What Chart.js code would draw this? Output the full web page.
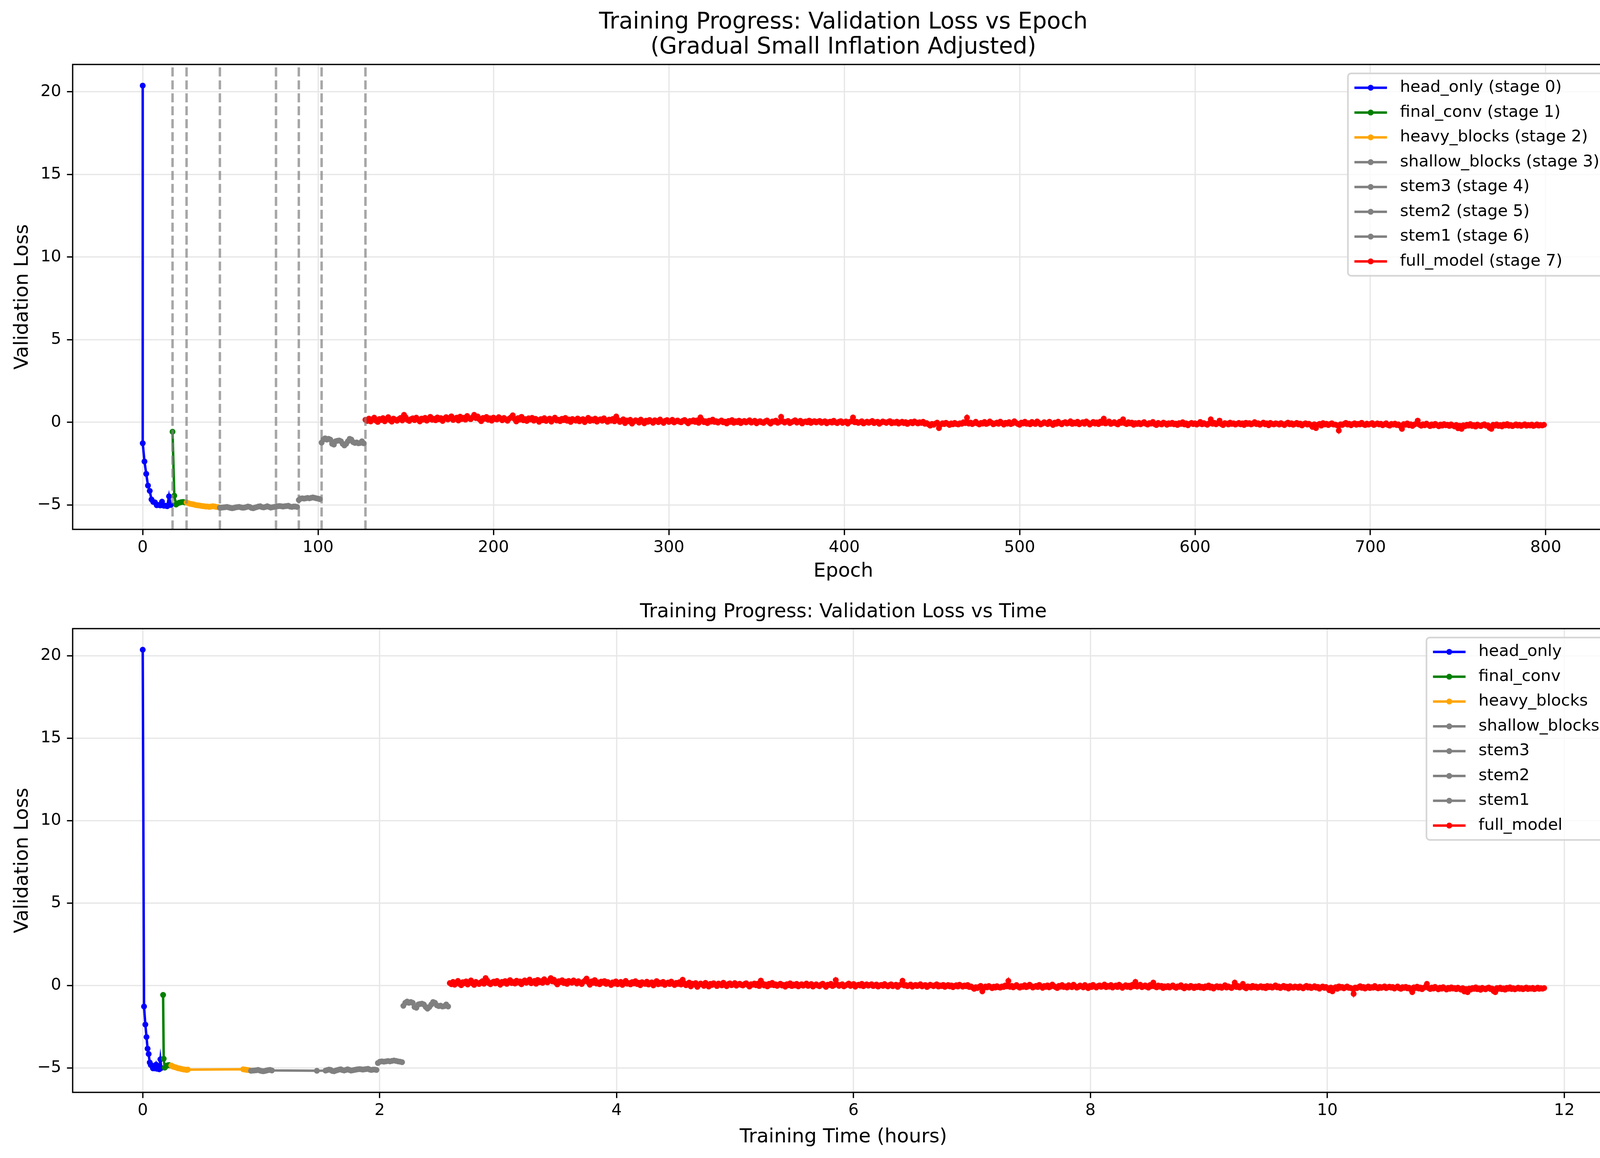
<!DOCTYPE html>
<html><head><meta charset="utf-8">
<script src="https://cdn.jsdelivr.net/npm/chart.js@4.4.1/dist/chart.umd.min.js"></script>
<style>
html,body{margin:0;padding:0;background:#fff;width:4164px;height:2964px;overflow:hidden}
canvas{position:absolute;left:0}
</style></head>
<body>
<canvas id="epochChart" width="4164" height="1500" style="top:0px;width:4164px;height:1500px"></canvas>
<canvas id="timeChart" width="4164" height="1464" style="top:1500px;width:4164px;height:1464px"></canvas>
<script>
// ---------------- data ----------------
const stageNames = ['head_only','final_conv','heavy_blocks','shallow_blocks','stem3','stem2','stem1','full_model'];
const stageColors = ['#0000ff','#008000','#ffa500','#808080','#808080','#808080','#808080','#ff0000'];
const stageStartEpochs = [0,17,25,44,76,89,102,127];

const headOnlyEpochs = [0,0,1,2,3,4,5,6,7,8,9,10,11,12,13,14,15,16];
const headOnlyLoss = [20.37,-1.27,-2.37,-3.12,-3.83,-4.15,-4.67,-4.82,-4.85,-5.02,-5.00,-5.03,-4.80,-5.05,-5.05,-5.08,-4.48,-5.00];
const headOnlyHours = [0.000,0.011,0.022,0.032,0.041,0.050,0.059,0.068,0.077,0.086,0.095,0.104,0.113,0.122,0.131,0.140,0.149,0.157];

const finalConvLoss = [-0.57,-4.44,-4.98,-4.90,-4.86,-4.83,-4.82,-4.85];
const finalConvHours = [0.172,0.177,0.186,0.195,0.204,0.213,0.222,0.231];

const heavyBlocksLoss = [-4.85,-4.90,-4.93,-4.95,-4.97,-5.00,-5.02,-5.03,-5.05,-5.07,-5.08,-5.10,-5.10,-5.12,-5.10,-5.08,-5.10,-5.12,-5.13];
const heavyBlocksHours = [0.241,0.251,0.261,0.271,0.281,0.291,0.301,0.311,0.321,0.331,0.341,0.351,0.361,0.371,0.381,0.848,0.864,0.880,0.897];

const shallowBlocksLoss = [-5.17,-5.16,-5.15,-5.14,-5.12,-5.15,-5.18,-5.20,-5.18,-5.15,-5.13,-5.12,-5.15,-5.17,-5.16,-5.13,-5.10,-5.12,-5.18,-5.20,-5.16,-5.13,-5.10,-5.08,-5.13,-5.15,-5.12,-5.08,-5.12,-5.16,-5.14,-5.12];
const shallowBlocksHours = [0.914,0.929,0.943,0.958,0.973,0.987,1.002,1.017,1.031,1.046,1.061,1.075,1.090,1.470,1.543,1.557,1.572,1.586,1.600,1.615,1.629,1.643,1.658,1.672,1.686,1.701,1.715,1.729,1.744,1.758,1.772,1.787];

const stem3Loss = [-5.10,-5.08,-5.07,-5.08,-5.10,-5.08,-5.07,-5.05,-5.10,-5.12,-5.10,-5.10,-5.12];
const stem3Hours = [1.801,1.815,1.830,1.844,1.858,1.873,1.887,1.901,1.916,1.930,1.944,1.959,1.973];

const stem2Loss = [-4.70,-4.62,-4.60,-4.62,-4.60,-4.58,-4.60,-4.57,-4.55,-4.57,-4.60,-4.62,-4.65];
const stem2Hours = [1.985,2.002,2.019,2.036,2.053,2.070,2.087,2.104,2.121,2.138,2.155,2.172,2.189];

const stem1Loss = [-1.23,-1.05,-0.97,-1.05,-1.00,-1.05,-1.30,-1.35,-1.15,-1.12,-1.10,-1.15,-1.30,-1.40,-1.30,-1.15,-1.00,-1.05,-1.20,-1.25,-1.22,-1.27,-1.25,-1.15,-1.27];
const stem1Hours = [2.200,2.216,2.232,2.247,2.263,2.279,2.294,2.310,2.326,2.341,2.357,2.373,2.389,2.404,2.420,2.436,2.451,2.467,2.483,2.499,2.514,2.530,2.546,2.562,2.578];

const fullModelLoss = [
 0.15,0.08,0.22,0.05,0.18,0.28,0.10,0.02,0.20,0.14,0.25,0.06,0.17,0.31,0.12,0.04,0.22,0.15,0.09,0.19,
 0.26,0.11,0.45,0.30,0.14,0.08,0.19,0.24,0.13,0.28,0.17,0.05,0.22,0.16,0.27,0.10,0.20,0.33,0.15,0.21,
 0.12,0.29,0.18,0.25,0.08,0.23,0.31,0.17,0.26,0.36,0.14,0.22,0.28,0.11,0.34,0.20,0.27,0.16,0.38,0.24,
 0.19,0.30,0.45,0.25,0.35,0.18,0.07,0.26,0.21,0.32,0.15,0.24,0.10,0.28,0.20,0.17,0.31,0.23,0.12,0.26,
 0.18,0.09,0.22,0.30,0.42,0.20,0.05,0.25,0.16,0.33,0.12,0.19,0.08,0.24,0.17,0.27,0.10,0.21,0.14,0.03,
 0.19,0.12,0.25,0.08,0.16,0.22,0.04,0.18,0.28,0.11,0.15,0.07,0.21,0.13,0.26,0.09,0.17,0.02,0.20,0.14,
 0.10,0.23,0.06,0.15,0.19,0.01,0.13,0.27,0.08,0.17,0.11,0.22,0.04,0.14,0.18,0.09,0.24,0.12,0.03,0.16,
 0.10,0.20,0.06,0.35,0.14,0.02,0.09,0.18,-0.05,0.11,0.06,0.15,-0.08,0.04,0.12,0.08,-0.02,0.16,0.07,-0.06,
 0.10,0.03,0.14,0.06,-0.03,0.12,0.08,0.01,0.17,0.05,-0.04,0.09,0.13,0.02,0.07,0.15,-0.01,0.06,0.11,0.04,
 0.00,0.09,0.14,0.03,-0.06,0.08,0.05,0.12,0.02,0.11,-0.03,0.30,0.13,0.01,0.06,-0.05,0.10,0.04,0.16,0.02,
 0.07,-0.02,0.05,0.11,0.00,0.04,-0.07,0.08,0.02,0.13,-0.03,0.06,0.01,0.10,-0.05,0.03,0.08,-0.01,0.05,0.12,
 -0.02,0.04,0.09,-0.06,0.02,0.07,0.00,-0.04,0.06,0.11,0.01,-0.08,0.05,0.03,0.10,-0.03,0.02,0.33,0.06,-0.02,
 0.04,0.08,-0.05,0.01,0.06,0.12,-0.02,0.03,0.09,-0.07,0.02,0.05,0.00,0.10,-0.04,0.03,0.07,-0.01,0.04,0.08,
 -0.03,0.02,0.06,-0.06,0.01,0.04,-0.02,0.09,0.00,-0.05,0.03,0.07,-0.04,0.01,0.05,-0.08,0.02,0.06,0.29,0.00,
 0.03,-0.04,0.01,0.06,-0.07,-0.01,0.04,-0.03,0.02,0.08,-0.05,0.00,0.03,-0.09,-0.02,0.05,0.01,-0.04,0.02,0.07,
 -0.06,0.00,-0.03,0.04,-0.08,-0.02,0.03,-0.05,0.01,-0.10,-0.03,0.02,-0.06,0.05,-0.01,-0.07,0.00,-0.04,0.03,-0.09,
 -0.05,-0.12,-0.20,-0.10,-0.15,-0.08,-0.02,-0.35,-0.14,-0.06,-0.11,-0.03,-0.09,-0.16,-0.07,-0.12,-0.04,-0.10,-0.13,-0.06,
 -0.09,0.00,-0.05,0.28,-0.08,-0.02,-0.11,-0.05,0.03,-0.07,-0.13,-0.04,-0.08,0.02,-0.10,-0.06,0.05,-0.03,-0.12,-0.07,
 -0.02,-0.09,0.04,-0.05,-0.14,-0.03,-0.08,0.01,-0.11,-0.06,0.06,-0.04,-0.10,-0.15,-0.02,-0.07,0.03,-0.09,-0.05,-0.12,
 0.02,-0.06,-0.10,0.05,-0.04,-0.13,-0.08,0.00,-0.05,-0.11,0.03,-0.07,-0.16,-0.02,-0.09,0.04,-0.06,-0.12,-0.03,0.01,
 -0.08,-0.04,0.06,-0.10,-0.02,-0.07,0.03,-0.12,-0.05,0.00,-0.09,0.05,-0.03,-0.14,-0.06,0.02,-0.08,-0.01,-0.11,0.04,
 -0.04,0.22,-0.07,-0.02,0.05,-0.10,-0.05,0.01,-0.08,-0.13,0.03,-0.04,0.18,-0.06,-0.11,0.00,-0.07,-0.02,-0.15,-0.05,
 -0.10,-0.03,-0.12,-0.06,0.01,-0.09,-0.14,-0.05,-0.08,0.02,-0.11,-0.17,-0.04,-0.09,-0.13,-0.02,-0.07,-0.15,-0.06,-0.10,
 -0.03,-0.12,-0.08,-0.16,-0.05,-0.10,0.00,-0.13,-0.07,-0.18,-0.09,-0.04,-0.11,-0.06,-0.14,-0.08,0.02,-0.12,-0.05,-0.10,
 -0.15,-0.07,0.18,-0.09,-0.03,-0.12,-0.06,0.10,-0.11,-0.17,-0.05,-0.08,-0.13,-0.02,-0.10,-0.06,-0.14,-0.09,-0.04,-0.12,
 -0.07,-0.16,-0.03,-0.10,-0.05,-0.13,-0.08,0.01,-0.11,-0.06,-0.15,-0.09,-0.02,-0.12,-0.07,-0.18,-0.04,-0.10,-0.13,-0.06,
 -0.09,-0.14,-0.05,-0.11,-0.17,-0.08,-0.02,-0.12,-0.06,-0.15,-0.10,-0.04,-0.13,-0.08,-0.19,-0.11,-0.06,-0.14,-0.09,-0.16,
 -0.28,-0.12,-0.35,-0.15,-0.10,-0.20,-0.05,-0.13,-0.09,-0.17,-0.11,-0.06,-0.14,-0.14,-0.18,-0.50,-0.12,-0.16,-0.10,-0.04,
 -0.14,-0.09,-0.18,-0.11,-0.06,-0.15,-0.10,-0.13,-0.03,-0.12,-0.17,-0.08,-0.14,-0.10,-0.05,-0.16,-0.11,-0.07,-0.13,-0.09,
 -0.18,-0.12,-0.06,-0.16,-0.20,-0.10,-0.14,-0.08,-0.17,-0.13,-0.22,-0.40,-0.11,-0.15,-0.07,-0.18,-0.12,-0.22,-0.14,-0.09,
 0.10,-0.15,-0.21,-0.12,-0.18,-0.08,-0.16,-0.23,-0.13,-0.19,-0.10,-0.17,-0.24,-0.14,-0.20,-0.11,-0.18,-0.15,-0.22,-0.13,
 -0.19,-0.25,-0.16,-0.36,-0.21,-0.40,-0.18,-0.24,-0.15,-0.20,-0.11,-0.22,-0.17,-0.26,-0.14,-0.19,-0.23,-0.16,-0.12,-0.21,
 -0.18,-0.34,-0.40,-0.15,-0.20,-0.13,-0.22,-0.17,-0.25,-0.14,-0.19,-0.11,-0.21,-0.16,-0.23,-0.18,-0.13,-0.20,-0.15,-0.22,
 -0.17,-0.12,-0.21,-0.16,-0.19,-0.14,-0.22,-0.18,-0.13,-0.20,-0.16,-0.19,-0.15
];
// full_model epochs are evenly timed (read: starts at 2.592 h, ~0.013747 h per epoch)
const fullModelStartHours = 2.592;
const fullModelHoursPerEpoch = 0.013747;

const epochTicks = [0,100,200,300,400,500,600,700,800];
const timeTicks = [0,2,4,6,8,10,12];
const lossTicks = [-5,0,5,10,15,20];
const epochRange = [-39.95, 838.95];
const timeRange = [-0.5915, 12.42];
const lossRange = [-6.48, 21.65];

// ---------------- build ----------------
const stageLoss = [headOnlyLoss, finalConvLoss, heavyBlocksLoss, shallowBlocksLoss, stem3Loss, stem2Loss, stem1Loss, fullModelLoss];
const stageHours = [headOnlyHours, finalConvHours, heavyBlocksHours, shallowBlocksHours, stem3Hours, stem2Hours, stem1Hours,
  fullModelLoss.map((_, i) => fullModelStartHours + i * fullModelHoursPerEpoch)];
const stageEpochs = stageLoss.map((vals, s) => s === 0 ? headOnlyEpochs : vals.map((_, i) => stageStartEpochs[s] + i));

const PT = 300 / 72;
const gridColor = '#e7e7e7';
Chart.defaults.font.family = "'DejaVu Sans', sans-serif";
Chart.defaults.color = '#000';

function makeDatasets(xs, withStage) {
  return stageNames.map((name, s) => ({
    label: withStage ? name + ' (stage ' + s + ')' : name,
    data: stageLoss[s].map((y, i) => ({x: xs[s][i], y: y})),
    borderColor: stageColors[s],
    backgroundColor: stageColors[s],
    pointBackgroundColor: stageColors[s],
    pointBorderColor: stageColors[s],
    pointBorderWidth: 0,
    pointRadius: 7.5,
    pointHoverRadius: 7.5,
    borderWidth: 1.5 * PT,
    tension: 0,
    fill: false,
    order: stageNames.length - 1 - s
  }));
}

const fmt = v => (v < 0 ? '\u2212' : '') + Math.abs(v);

function roundRect(ctx, x, y, w, h, r) {
  ctx.beginPath();
  ctx.moveTo(x + r, y);
  ctx.arcTo(x + w, y, x + w, y + h, r);
  ctx.arcTo(x + w, y + h, x, y + h, r);
  ctx.arcTo(x, y + h, x, y, r);
  ctx.arcTo(x, y, x + w, y, r);
  ctx.closePath();
}

const decorPlugin = {
  id: 'decor',
  afterDatasetsDraw(chart, args, opts) {
    const {ctx, chartArea: a, scales} = chart;
    ctx.save();
    if (opts.boundaries) {
      ctx.strokeStyle = 'rgba(128,128,128,0.7)';
      ctx.lineWidth = 1.5 * PT;
      ctx.setLineDash([3.7 * 1.5 * PT, 1.6 * 1.5 * PT]);
      opts.boundaries.forEach(e => {
        const x = scales.x.getPixelForValue(e);
        ctx.beginPath(); ctx.moveTo(x, a.bottom); ctx.lineTo(x, a.top); ctx.stroke();
      });
      ctx.setLineDash([]);
    }
    // spines
    ctx.strokeStyle = '#000';
    ctx.lineWidth = 0.8 * PT;
    ctx.strokeRect(a.left, a.top, a.right - a.left, a.bottom - a.top);
    // legend
    const fs = 10 * PT;
    ctx.font = fs + "px 'DejaVu Sans'";
    const ds = chart.data.datasets;
    const maxW = Math.max(...ds.map(d => ctx.measureText(d.label).width));
    const pad = 0.4 * fs, handleLen = 2 * fs, handlePad = 0.8 * fs;
    const pitch = 63.5, edge = 36.75;
    const boxW = pad + handleLen + handlePad + maxW + pad;
    const boxH = 2 * edge + (ds.length - 1) * pitch;
    const right = a.right - 0.5 * fs;
    const left = right - boxW;
    const top = a.top + 0.5 * fs + 2;
    roundRect(ctx, left, top, boxW, boxH, 0.2 * fs);
    ctx.fillStyle = 'rgba(255,255,255,0.8)';
    ctx.fill();
    ctx.strokeStyle = '#d6d6d6';
    ctx.lineWidth = 1 * PT;
    ctx.stroke();
    ds.forEach((d, i) => {
      const cy = top + edge + i * pitch;
      const x0 = left + pad;
      ctx.strokeStyle = d.borderColor;
      ctx.lineWidth = 1.5 * PT;
      ctx.beginPath(); ctx.moveTo(x0, cy); ctx.lineTo(x0 + handleLen, cy); ctx.stroke();
      ctx.fillStyle = d.borderColor;
      ctx.beginPath(); ctx.arc(x0 + handleLen / 2, cy, 7.5, 0, Math.PI * 2); ctx.fill();
      ctx.fillStyle = '#000';
      ctx.textAlign = 'left';
      ctx.textBaseline = 'middle';
      ctx.fillText(d.label, x0 + handleLen + handlePad, cy);
    });
    ctx.restore();
  }
};

function axisOpts(range, ticks, titleText, fixedSize, titlePad, tickPad, horizontal) {
  return {
    type: 'linear',
    min: range[0], max: range[1],
    afterBuildTicks: ax => { ax.ticks = ticks.map(v => ({value: v})); },
    afterFit: ax => { if (horizontal) ax.height = fixedSize; else ax.width = fixedSize; },
    grid: {color: gridColor, lineWidth: 0.8 * PT, drawTicks: true, tickLength: 3.5 * PT, tickColor: '#000', tickWidth: 0.8 * PT},
    border: {display: false},
    ticks: {font: {size: 10 * PT}, color: '#000', padding: tickPad, autoSkip: false, maxRotation: 0, minRotation: 0, callback: v => fmt(v)},
    title: {display: true, text: titleText, color: '#000', font: {size: 12 * PT}, padding: titlePad}
  };
}

function makeChart(id, xs, withStage, xRange, xTicks, xTitle, titleOpts, xAxisHeight, xTitlePadBottom, boundaries) {
  return new Chart(document.getElementById(id), {
    type: 'line',
    data: {datasets: makeDatasets(xs, withStage)},
    options: {
      responsive: false,
      animation: false,
      devicePixelRatio: 1,
      parsing: false,
      normalized: true,
      layout: {padding: {left: 0, right: 32, top: 0, bottom: 0}},
      scales: {
        x: axisOpts(xRange, xTicks, xTitle, xAxisHeight, {top: 0, bottom: xTitlePadBottom}, 8, true),
        y: axisOpts(lossRange, lossTicks, 'Validation Loss', 186, {top: 28, bottom: 0}, 3.5 * PT, false)
      },
      plugins: {
        legend: {display: false},
        tooltip: {enabled: false},
        title: titleOpts,
        decor: {boundaries: boundaries}
      }
    },
    plugins: [decorPlugin]
  });
}

makeChart('epochChart', stageEpochs, true, epochRange, epochTicks, 'Epoch',
  {display: true, fullSize: false, text: ['Training Progress: Validation Loss vs Epoch', '(Gradual Small Inflation Adjusted)'],
   color: '#000', font: {size: 14 * PT, weight: 'normal', lineHeight: 1.1}, padding: {top: 26, bottom: 10.67}},
  145, 7, stageStartEpochs.slice(1));

makeChart('timeChart', stageHours, false, timeRange, timeTicks, 'Training Time (hours)',
  {display: true, fullSize: false, text: 'Training Progress: Validation Loss vs Time',
   color: '#000', font: {size: 12 * PT, weight: 'normal', lineHeight: 1.2}, padding: {top: 37, bottom: 12}},
  168, 23, null);
</script>
</body></html>
